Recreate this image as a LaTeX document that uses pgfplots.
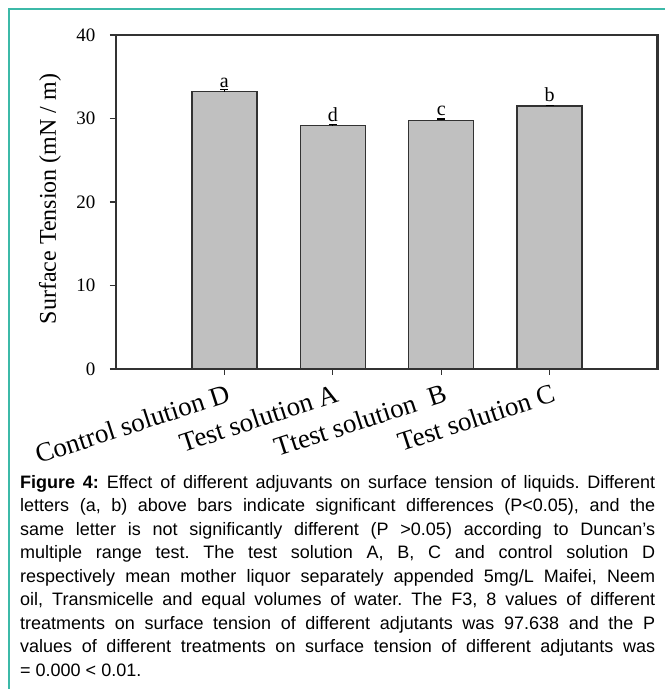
\documentclass[border=0pt]{standalone}
\usepackage{pgfplots}
\pgfplotsset{compat=1.18}
\usepackage{fontspec}
\setmainfont{Liberation Serif}
\newfontfamily\capfont{Liberation Sans}
\definecolor{teal1}{RGB}{60,185,168}
\definecolor{bargray}{RGB}{192,192,192}
\definecolor{edge}{RGB}{50,50,50}
\begin{document}
\begin{tikzpicture}[x=1pt,y=1pt]
\useasboundingbox (0,0) rectangle (665,689);
\fill[white] (0,0) rectangle (665,689);
\draw[teal1, line width=2pt] (9,0) -- (9,680) -- (665,680);
\begin{axis}[
  at={(116pt,320pt)}, anchor=south west,
  scale only axis, width=542pt, height=334pt,
  xmin=-1, xmax=4, ymin=0, ymax=40,
  ytick={0,10,20,30,40},
  xtick={0,1,2,3},
  xticklabels={Control solution D, Test solution A, Ttest solution\ \ B, Test solution C},
  xtick pos=bottom, ytick pos=left,
  tick align=outside, major tick length=6pt,
  tick style={line width=1.2pt, edge},
  axis line style={line width=1.3pt, edge},
  /pgf/number format/assume math mode=true,
  y tick label style={font=\fontsize{19}{19}\selectfont, xshift=-11pt},
  x tick label style={font=\fontsize{27}{27}\selectfont, rotate=18, anchor=north east, xshift=2pt, yshift=-5pt},
  ylabel={Surface Tension (mN / m)},
  every axis y label/.style={at={(axis description cs:0,0.509)}, xshift=-66pt, rotate=90, anchor=center, font=\fontsize{24}{24}\selectfont},
  ybar, bar width=0.6,
  nodes near coords, point meta=explicit symbolic,
  every node near coord/.style={font=\fontsize{20}{20}\selectfont, anchor=south, yshift=0pt},
]
\addplot[fill=bargray, draw=edge, line width=1.3pt,
  error bars/.cd, y dir=plus, y explicit,
  error bar style={line width=1.2pt, black},
  error mark options={rotate=90, mark size=4pt, line width=1.2pt, black}]
  table[x=x, y=y, y error=e, meta=l] {
x y e l
0 33.2 0.3 a
1 29.2 0.08 d
2 29.8 0.15 c
3 31.5 0.1 b
};
\draw[edge, line width=4.5pt] (rel axis cs:1,0) -- (rel axis cs:1,1);
\end{axis}
\node[anchor=north west, text width=635pt, inner sep=0pt, align=justify,
  font={\capfont\fontsize{18}{23.5}\selectfont}] at (20,214)
{\hyphenpenalty=10000\tolerance=10000\frenchspacing
\textbf{Figure 4:} Effect of different adjuvants on surface tension of liquids. Different\linebreak
letters (a, b) above bars indicate significant differences (P<0.05), and the\linebreak
same letter is not significantly different (P >0.05) according to Duncan’s\linebreak
multiple range test. The test solution A, B, C and control solution D\linebreak
respectively mean mother liquor separately appended 5mg/L Maifei, Neem\linebreak
oil, Transmicelle and equal volumes of water. The F3, 8 values of different\linebreak
treatments on surface tension of different adjutants was 97.638 and the P\linebreak
values of different treatments on surface tension of different adjutants was\linebreak
= 0.000 < 0.01.\par};
\end{tikzpicture}
\end{document}
